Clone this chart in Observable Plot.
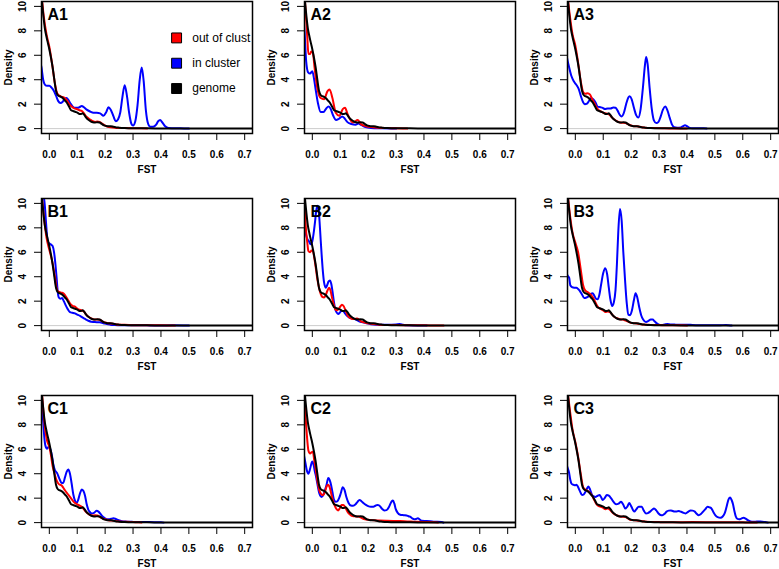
<!DOCTYPE html>
<html>
<head>
<meta charset="utf-8">
<script src="https://cdn.jsdelivr.net/npm/d3@7"></script>
<script src="https://cdn.jsdelivr.net/npm/@observablehq/plot@0.6"></script>
<style>
  html, body { margin: 0; padding: 0; background: white; }
  #chart { position: relative; width: 779px; height: 569px; overflow: hidden; background: white; }
  #chart svg { position: absolute; }
</style>
</head>
<body>
<div id="chart"></div>
<script>
// ---------- data ----------
const panelLabels = ["A1", "A2", "A3", "B1", "B2", "B3", "C1", "C2", "C3"];
const seriesNames = ["out of clust", "in cluster", "genome"];
const seriesColors = ["#ff0000", "#0000ff", "#000000"];
const xTicks = [0, 0.1, 0.2, 0.3, 0.4, 0.5, 0.6, 0.7];
const yTicks = [0, 2, 4, 6, 8, 10];

// genome-wide FST density (black), [FST, density]
const genome = [[-0.035,12],[-0.028,10.8],[-0.022,9.4],[-0.016,8.2],[-0.01,7.5],[-0.004,6.9],[0.0,6.5],[0.006,5.8],[0.012,5.0],[0.018,4.0],[0.024,3.1],[0.03,2.75],[0.036,2.65],[0.042,2.6],[0.048,2.5],[0.054,2.35],[0.06,2.2],[0.066,2.0],[0.072,1.75],[0.078,1.5],[0.084,1.45],[0.09,1.4],[0.096,1.35],[0.102,1.28],[0.108,1.2],[0.114,1.2],[0.12,1.25],[0.126,1.1],[0.132,0.9],[0.14,0.72],[0.148,0.6],[0.156,0.52],[0.164,0.5],[0.172,0.52],[0.18,0.5],[0.188,0.38],[0.196,0.27],[0.204,0.22],[0.212,0.2],[0.22,0.2],[0.23,0.15],[0.24,0.1],[0.25,0.08],[0.27,0.05],[0.3,0.03],[0.35,0.02],[0.4,0.01],[0.5,0.005],[0.6,0.003],[0.75,0]];

// out of cluster (red)
const a1Red = [[-0.035,12],[-0.028,10.9],[-0.02,9.2],[-0.01,7.7],[0.0,6.7],[0.01,5.3],[0.02,3.7],[0.028,2.9],[0.036,2.7],[0.044,2.6],[0.052,2.55],[0.062,2.35],[0.07,2.05],[0.08,1.8],[0.09,1.65],[0.098,1.6],[0.108,1.5],[0.116,1.45],[0.124,1.25],[0.132,1.0],[0.14,0.85],[0.148,0.72],[0.156,0.62],[0.164,0.55],[0.172,0.58],[0.18,0.55],[0.19,0.4],[0.2,0.25],[0.21,0.15],[0.22,0.1],[0.24,0.06],[0.27,0.04],[0.3,0.03],[0.33,0.02],[0.35,0]];
const a2Red = [[-0.035,13],[-0.028,11],[-0.018,7.5],[-0.014,6.1],[-0.008,6.1],[-0.004,6.3],[0.002,6.2],[0.008,5.0],[0.018,3.3],[0.03,2.5],[0.042,2.4],[0.054,3.05],[0.062,3.2],[0.072,2.5],[0.084,1.3],[0.097,1.05],[0.109,1.6],[0.117,1.7],[0.127,1.15],[0.145,0.5],[0.163,0.7],[0.175,0.35],[0.193,0.2],[0.217,0.12],[0.265,0.05],[0.3,0.03],[0.34,0]];
const a3Red = [[-0.035,12],[-0.028,10.9],[-0.02,9.3],[-0.01,7.7],[0.0,6.8],[0.01,5.4],[0.02,3.8],[0.028,3.0],[0.036,2.85],[0.044,2.9],[0.052,2.8],[0.06,2.45],[0.068,2.1],[0.076,1.75],[0.084,1.5],[0.092,1.4],[0.1,1.3],[0.108,1.25],[0.116,1.2],[0.124,1.1],[0.132,0.9],[0.14,0.75],[0.15,0.6],[0.16,0.5],[0.17,0.48],[0.18,0.45],[0.19,0.35],[0.2,0.25],[0.21,0.2],[0.22,0.2],[0.23,0.15],[0.25,0.08],[0.28,0.04],[0.32,0.02],[0.36,0.01],[0.4,0]];
const b1Red = [[-0.035,12],[-0.028,10.8],[-0.02,9.0],[-0.01,7.2],[0.0,6.2],[0.01,5.3],[0.02,4.0],[0.028,2.9],[0.036,2.75],[0.044,2.7],[0.052,2.6],[0.06,2.35],[0.068,2.05],[0.076,1.75],[0.084,1.6],[0.092,1.55],[0.1,1.4],[0.108,1.3],[0.116,1.25],[0.124,1.15],[0.132,0.9],[0.14,0.72],[0.15,0.6],[0.16,0.5],[0.17,0.5],[0.18,0.48],[0.19,0.35],[0.2,0.25],[0.21,0.2],[0.22,0.18],[0.23,0.15],[0.25,0.08],[0.27,0.08],[0.3,0.03],[0.35,0.02],[0.4,0.02],[0.45,0]];
const b2Red = [[-0.035,12],[-0.028,10.5],[-0.024,8.3],[-0.018,6.8],[-0.014,6.1],[-0.008,6.0],[-0.003,6.15],[0.002,6.1],[0.006,5.7],[0.012,4.8],[0.018,3.8],[0.024,3.1],[0.03,2.6],[0.036,2.35],[0.042,2.3],[0.048,2.5],[0.054,2.85],[0.06,3.1],[0.065,2.9],[0.07,2.35],[0.076,1.8],[0.082,1.35],[0.088,1.25],[0.094,1.35],[0.1,1.55],[0.106,1.7],[0.112,1.6],[0.118,1.3],[0.126,0.85],[0.135,0.62],[0.144,0.55],[0.152,0.55],[0.16,0.58],[0.167,0.5],[0.174,0.35],[0.184,0.27],[0.193,0.22],[0.205,0.17],[0.217,0.13],[0.24,0.08],[0.265,0.05],[0.3,0.04],[0.35,0.03],[0.4,0.02],[0.46,0.01],[0.47,0]];
const b3Red = [[-0.035,12],[-0.028,10.9],[-0.02,9.2],[-0.01,7.6],[0.0,6.8],[0.01,6.0],[0.02,4.5],[0.028,3.3],[0.036,2.85],[0.044,2.75],[0.052,2.6],[0.06,2.4],[0.068,2.1],[0.076,1.7],[0.084,1.45],[0.092,1.35],[0.1,1.25],[0.108,1.12],[0.116,1.15],[0.124,1.1],[0.132,0.9],[0.14,0.7],[0.15,0.6],[0.16,0.52],[0.17,0.5],[0.18,0.42],[0.19,0.32],[0.2,0.22],[0.21,0.2],[0.22,0.18],[0.24,0.1],[0.27,0.06],[0.3,0.04],[0.34,0.02],[0.38,0.03],[0.4,0]];
const c1Red = [[-0.035,12.5],[-0.028,11],[-0.02,8.8],[-0.014,7.5],[-0.008,6.7],[0.0,6.2],[0.006,5.5],[0.012,4.6],[0.02,3.9],[0.026,3.45],[0.032,3.2],[0.038,3.1],[0.044,3.05],[0.05,2.85],[0.056,2.65],[0.064,2.4],[0.074,2.1],[0.084,1.8],[0.092,1.6],[0.1,1.5],[0.108,1.4],[0.116,1.3],[0.122,1.15],[0.128,0.97],[0.136,0.78],[0.146,0.62],[0.156,0.58],[0.164,0.6],[0.172,0.58],[0.182,0.45],[0.19,0.35],[0.2,0.27],[0.212,0.2],[0.23,0.15],[0.25,0.1],[0.278,0.07],[0.3,0.04],[0.32,0.02],[0.33,0]];
const c2Red = [[-0.035,12],[-0.028,10],[-0.024,8.6],[-0.02,7.3],[-0.014,5.9],[-0.008,5.65],[-0.003,5.75],[0.002,5.8],[0.007,5.1],[0.012,4.4],[0.016,3.75],[0.02,3.2],[0.025,2.65],[0.031,2.35],[0.037,2.25],[0.042,2.35],[0.047,2.65],[0.052,3.0],[0.057,3.1],[0.062,2.9],[0.068,2.35],[0.074,1.8],[0.081,1.35],[0.087,1.1],[0.093,1.0],[0.099,1.2],[0.105,1.45],[0.111,1.45],[0.118,1.25],[0.126,0.9],[0.134,0.68],[0.141,0.55],[0.15,0.52],[0.159,0.5],[0.166,0.5],[0.173,0.43],[0.181,0.33],[0.189,0.27],[0.2,0.23],[0.219,0.2],[0.24,0.17],[0.267,0.15],[0.29,0.14],[0.315,0.13],[0.34,0.1],[0.362,0.08],[0.4,0.05],[0.44,0.02],[0.45,0]];
const c3Red = [[-0.035,12],[-0.028,10.8],[-0.02,9.3],[-0.01,7.6],[0.0,6.6],[0.01,5.4],[0.02,3.9],[0.028,2.9],[0.036,2.7],[0.044,2.6],[0.052,2.45],[0.06,2.2],[0.068,1.85],[0.076,1.5],[0.084,1.35],[0.092,1.3],[0.1,1.2],[0.108,1.1],[0.116,1.15],[0.124,1.05],[0.132,0.85],[0.14,0.7],[0.15,0.58],[0.16,0.5],[0.17,0.48],[0.18,0.45],[0.19,0.32],[0.2,0.22],[0.21,0.2],[0.22,0.18],[0.24,0.12],[0.27,0.06],[0.3,0.04],[0.35,0.02],[0.42,0.05],[0.5,0.03],[0.6,0.02],[0.65,0]];

// in cluster (blue)
const a1Blue = [[-0.035,5.6],[-0.028,5.0],[-0.022,4.0],[-0.016,3.6],[-0.008,3.5],[0.0,3.5],[0.008,3.35],[0.016,3.1],[0.024,2.7],[0.032,2.25],[0.04,2.1],[0.048,2.2],[0.056,2.45],[0.062,2.5],[0.068,2.35],[0.076,2.05],[0.084,1.8],[0.092,1.7],[0.1,1.7],[0.108,1.75],[0.116,1.85],[0.124,1.75],[0.134,1.55],[0.146,1.4],[0.158,1.3],[0.17,1.3],[0.182,1.25],[0.194,1.05],[0.204,1.35],[0.212,1.75],[0.22,1.55],[0.23,1.0],[0.238,0.6],[0.246,0.75],[0.254,1.3],[0.262,2.6],[0.27,3.55],[0.278,2.7],[0.286,1.3],[0.294,0.4],[0.3,0.25],[0.308,0.6],[0.316,1.9],[0.324,4.0],[0.331,5.0],[0.338,3.9],[0.346,1.5],[0.354,0.4],[0.362,0.15],[0.372,0.15],[0.382,0.3],[0.39,0.6],[0.397,0.7],[0.405,0.5],[0.415,0.2],[0.427,0.05],[0.45,0.03],[0.47,0.03],[0.49,0.01],[0.5,0]];
const a2Blue = [[-0.035,10],[-0.028,8.0],[-0.022,5.5],[-0.015,4.6],[-0.008,4.5],[0.0,4.7],[0.006,4.1],[0.012,3.2],[0.02,2.1],[0.03,1.35],[0.04,1.35],[0.05,1.65],[0.058,1.8],[0.065,1.65],[0.075,1.05],[0.085,0.7],[0.095,0.8],[0.107,1.0],[0.115,0.85],[0.125,0.55],[0.14,0.38],[0.155,0.32],[0.165,0.42],[0.175,0.3],[0.19,0.12],[0.21,0.06],[0.25,0.03],[0.3,0]];
const a3Blue = [[-0.035,6.5],[-0.028,5.6],[-0.022,5.0],[-0.014,4.3],[-0.006,3.9],[-0.002,3.75],[0.006,3.5],[0.012,3.25],[0.02,2.65],[0.028,2.15],[0.034,2.0],[0.042,2.05],[0.05,2.3],[0.057,2.5],[0.064,2.4],[0.072,2.15],[0.08,1.8],[0.09,1.75],[0.098,1.7],[0.106,1.6],[0.116,1.65],[0.126,1.65],[0.136,1.72],[0.144,1.7],[0.152,1.45],[0.16,1.1],[0.166,1.0],[0.174,1.3],[0.182,2.0],[0.19,2.55],[0.195,2.65],[0.202,2.4],[0.21,1.7],[0.218,1.1],[0.226,0.9],[0.234,1.6],[0.242,3.3],[0.25,5.3],[0.254,5.85],[0.259,5.3],[0.266,3.4],[0.274,1.6],[0.282,0.65],[0.29,0.45],[0.298,0.55],[0.306,1.0],[0.314,1.55],[0.322,1.8],[0.33,1.5],[0.338,0.9],[0.346,0.35],[0.354,0.12],[0.365,0.08],[0.378,0.1],[0.386,0.2],[0.393,0.27],[0.4,0.2],[0.408,0.08],[0.42,0.03],[0.44,0.02],[0.46,0.02],[0.47,0]];
const b1Blue = [[-0.03,13],[-0.022,11],[-0.016,9.8],[-0.012,8.5],[-0.008,7.3],[-0.004,6.8],[0.002,6.7],[0.008,6.6],[0.012,6.5],[0.017,6.0],[0.022,5.0],[0.026,3.95],[0.03,2.8],[0.034,2.3],[0.04,2.2],[0.046,2.25],[0.052,2.0],[0.058,1.7],[0.066,1.35],[0.074,1.1],[0.082,1.05],[0.092,1.0],[0.1,0.9],[0.11,0.8],[0.12,0.65],[0.13,0.52],[0.14,0.4],[0.15,0.32],[0.16,0.3],[0.17,0.28],[0.18,0.27],[0.194,0.2],[0.206,0.12],[0.218,0.08],[0.235,0.05],[0.254,0.03],[0.3,0.02],[0.35,0.02],[0.4,0.01],[0.44,0.02],[0.48,0.01],[0.5,0]];
const b2Blue = [[-0.035,9],[-0.028,8.2],[-0.024,7.6],[-0.018,7.1],[-0.012,6.9],[-0.006,6.65],[0.0,6.9],[0.005,7.6],[0.01,8.55],[0.014,9.4],[0.018,9.8],[0.022,9.6],[0.026,8.5],[0.03,7.0],[0.034,5.6],[0.038,4.4],[0.042,3.55],[0.048,3.1],[0.053,3.3],[0.058,3.6],[0.063,3.7],[0.068,3.4],[0.072,2.85],[0.077,2.0],[0.082,1.35],[0.088,1.05],[0.093,0.95],[0.098,1.05],[0.104,1.2],[0.11,1.2],[0.116,1.05],[0.122,0.85],[0.13,0.7],[0.14,0.6],[0.15,0.55],[0.16,0.45],[0.168,0.35],[0.18,0.27],[0.193,0.2],[0.21,0.12],[0.229,0.08],[0.26,0.07],[0.283,0.08],[0.3,0.1],[0.313,0.13],[0.325,0.07],[0.337,0.02],[0.37,0.01],[0.41,0]];
const b3Blue = [[-0.035,4.6],[-0.028,4.1],[-0.022,3.9],[-0.018,3.3],[-0.012,3.15],[-0.004,3.1],[0.004,3.1],[0.01,3.0],[0.016,2.85],[0.024,2.55],[0.032,2.25],[0.04,2.3],[0.048,2.4],[0.056,2.6],[0.062,2.65],[0.068,2.45],[0.074,2.2],[0.08,2.15],[0.086,2.5],[0.092,3.3],[0.1,4.3],[0.107,4.7],[0.114,4.2],[0.12,3.1],[0.126,2.1],[0.132,1.6],[0.138,1.9],[0.144,2.9],[0.149,5.0],[0.154,7.7],[0.16,9.55],[0.166,8.6],[0.172,6.0],[0.178,3.8],[0.184,1.9],[0.19,0.9],[0.196,0.85],[0.203,1.25],[0.21,2.1],[0.216,2.65],[0.222,2.3],[0.229,1.5],[0.236,0.85],[0.243,0.5],[0.253,0.3],[0.262,0.38],[0.27,0.5],[0.277,0.5],[0.284,0.35],[0.292,0.18],[0.3,0.08],[0.31,0.06],[0.32,0.1],[0.33,0.13],[0.34,0.1],[0.36,0.08],[0.38,0.07],[0.4,0.08],[0.42,0.05],[0.44,0.03],[0.48,0.02],[0.52,0.03],[0.54,0.05],[0.55,0.03],[0.56,0]];
const c1Blue = [[-0.035,11.5],[-0.028,9.5],[-0.022,8.3],[-0.018,7.0],[-0.014,6.3],[-0.008,6.05],[-0.002,6.2],[0.004,6.0],[0.01,5.4],[0.014,4.8],[0.02,4.3],[0.028,4.05],[0.036,3.6],[0.044,3.25],[0.05,3.25],[0.056,3.7],[0.062,4.15],[0.068,4.35],[0.074,4.0],[0.08,3.2],[0.086,2.3],[0.092,1.8],[0.098,1.6],[0.104,1.9],[0.11,2.4],[0.116,2.7],[0.122,2.6],[0.128,2.2],[0.134,1.5],[0.14,1.05],[0.146,0.85],[0.152,0.75],[0.16,0.8],[0.17,0.97],[0.176,0.9],[0.182,0.75],[0.19,0.52],[0.198,0.38],[0.206,0.28],[0.214,0.27],[0.222,0.32],[0.23,0.35],[0.238,0.3],[0.248,0.2],[0.26,0.12],[0.278,0.08],[0.3,0.06],[0.325,0.05],[0.36,0.04],[0.4,0.03],[0.41,0]];
const c2Blue = [[-0.035,6.2],[-0.029,5.4],[-0.024,4.8],[-0.02,4.3],[-0.014,4.0],[-0.008,4.4],[-0.003,4.85],[0.0,5.0],[0.004,4.8],[0.008,4.3],[0.013,3.8],[0.018,3.2],[0.025,2.4],[0.033,2.1],[0.04,2.3],[0.046,2.7],[0.051,3.1],[0.057,3.65],[0.062,3.5],[0.067,3.1],[0.072,2.5],[0.078,1.85],[0.084,1.7],[0.09,1.75],[0.096,2.0],[0.102,2.4],[0.109,2.9],[0.115,2.7],[0.122,2.1],[0.13,1.6],[0.138,1.4],[0.146,1.38],[0.155,1.5],[0.162,1.7],[0.169,1.85],[0.176,1.75],[0.183,1.6],[0.192,1.45],[0.2,1.35],[0.21,1.3],[0.219,1.3],[0.226,1.38],[0.233,1.45],[0.24,1.4],[0.249,1.15],[0.258,1.0],[0.266,1.02],[0.274,1.25],[0.28,1.55],[0.285,1.75],[0.289,1.8],[0.294,1.55],[0.299,1.1],[0.306,0.8],[0.315,0.65],[0.324,0.62],[0.332,0.6],[0.342,0.55],[0.35,0.48],[0.358,0.35],[0.365,0.27],[0.372,0.3],[0.378,0.35],[0.385,0.25],[0.392,0.15],[0.41,0.13],[0.434,0.08],[0.464,0.05],[0.47,0]];
const c3Blue = [[-0.035,5.0],[-0.028,4.5],[-0.0225,4.1],[-0.018,3.5],[-0.014,3.2],[-0.008,3.1],[-0.002,3.05],[0.004,3.1],[0.009,2.95],[0.016,2.6],[0.024,2.25],[0.03,2.3],[0.036,2.5],[0.042,2.8],[0.047,2.95],[0.053,2.7],[0.06,2.25],[0.066,2.15],[0.072,2.1],[0.08,2.2],[0.087,2.25],[0.093,2.05],[0.098,1.85],[0.105,2.0],[0.113,2.25],[0.12,2.2],[0.128,2.0],[0.137,1.7],[0.146,1.5],[0.155,1.55],[0.164,1.7],[0.171,1.5],[0.179,1.15],[0.186,1.3],[0.193,1.6],[0.2,1.35],[0.211,0.9],[0.219,1.1],[0.227,1.3],[0.238,1.3],[0.245,1.0],[0.253,0.75],[0.26,0.78],[0.268,0.9],[0.275,1.05],[0.282,1.15],[0.29,1.0],[0.298,0.75],[0.305,0.62],[0.312,0.6],[0.32,0.72],[0.327,0.9],[0.335,0.98],[0.342,1.0],[0.349,0.95],[0.356,0.9],[0.364,0.92],[0.371,0.95],[0.377,0.9],[0.383,0.85],[0.39,0.78],[0.395,0.75],[0.404,0.88],[0.413,1.0],[0.42,0.98],[0.428,0.9],[0.435,0.72],[0.442,0.6],[0.45,0.7],[0.458,0.9],[0.466,1.1],[0.474,1.3],[0.481,1.25],[0.488,1.15],[0.495,0.85],[0.502,0.6],[0.51,0.45],[0.52,0.4],[0.528,0.5],[0.535,0.75],[0.542,1.3],[0.549,1.9],[0.555,2.05],[0.56,1.85],[0.565,1.5],[0.57,0.95],[0.575,0.5],[0.581,0.3],[0.587,0.27],[0.595,0.33],[0.603,0.4],[0.61,0.33],[0.618,0.2],[0.625,0.12],[0.632,0.08],[0.645,0.08],[0.656,0.1],[0.668,0.08],[0.68,0.05],[0.69,0]];

// ---------- layout ----------
const redSeries = [a1Red, a2Red, a3Red, b1Red, b2Red, b3Red, c1Red, c2Red, c3Red];
const blueSeries = [a1Blue, a2Blue, a3Blue, b1Blue, b2Blue, b3Blue, c1Blue, c2Blue, c3Blue];

const fontFamily = "'Liberation Sans', Arial, Helvetica, sans-serif";
const colPitch = 263;
const rowTops = [0.5, 198, 395];
const mTop = 5, mLeft = 41, mRight = 11, mBottom = 60, boxW = 211, boxH = 132;
const xDomain = [-0.028, 0.728];
const yDomain = [-0.4, 10.4];
// legend anchor (data coordinates in panel A1)
const legendSwatchX = 0.456, legendTextX = 0.512, legendTop = 7.42, legendStep = 2.07;

const chart = document.getElementById("chart");

panelLabels.forEach((label, p) => {
  const col = p % 3, row = Math.floor(p / 3);
  const lineOpts = {x: d => d[0], y: d => d[1], strokeWidth: 2, curve: "monotone-x", clip: true};
  const marks = [
    Plot.ruleY([0], {stroke: "#bebebe", strokeWidth: 0.8}),
    Plot.line(blueSeries[p], {...lineOpts, stroke: seriesColors[1]}),
    Plot.line(redSeries[p], {...lineOpts, stroke: seriesColors[0]}),
    Plot.line(genome, {...lineOpts, stroke: seriesColors[2]}),
    Plot.frame({stroke: "black", strokeWidth: 1.5}),
    Plot.axisX({ticks: xTicks, tickFormat: d3.format(".1f"), tickSize: 7, tickPadding: 10, label: null, fontSize: 10}),
    Plot.axisY({ticks: yTicks, tickSize: 7, tickFormat: () => "", label: null}),
    // y tick labels, rotated like R's default
    Plot.text(yTicks, {y: d => d, frameAnchor: "left", dx: -19, rotate: -90, textAnchor: "middle", lineAnchor: "middle", text: d => String(d), fontSize: 10}),
    Plot.text([label], {frameAnchor: "top-left", dx: 6, dy: 7, lineAnchor: "top", textAnchor: "start", text: d => d, fontSize: 16, fontWeight: "bold"}),
    Plot.text(["FST"], {frameAnchor: "bottom", dy: 39.5, text: d => d, fontSize: 10}),
    Plot.text(["Density"], {frameAnchor: "left", dx: -33, rotate: -90, textAnchor: "middle", lineAnchor: "middle", text: d => d, fontSize: 10})
  ];
  if (p === 0) {
    seriesNames.forEach((name, i) => {
      marks.push(Plot.dot([name], {x: () => legendSwatchX, y: () => legendTop - i * legendStep, symbol: "square", r: 5.6, fill: seriesColors[i], stroke: "black", strokeWidth: 1, clip: true}));
      marks.push(Plot.text([name], {x: () => legendTextX, y: () => legendTop - i * legendStep, text: d => d, textAnchor: "start", fontSize: 12, fontWeight: "normal", clip: true}));
    });
  }
  const svg = Plot.plot({
    width: mLeft + boxW + mRight,
    height: mTop + boxH + mBottom,
    marginLeft: mLeft, marginRight: mRight, marginTop: mTop, marginBottom: mBottom,
    style: {fontFamily, fontSize: "10px", fontWeight: "bold", color: "black", background: "transparent", overflow: "visible"},
    x: {domain: xDomain},
    y: {domain: yDomain},
    marks
  });
  svg.style.left = (col * colPitch) + "px";
  svg.style.top = (rowTops[row] - mTop) + "px";
  chart.appendChild(svg);
});
</script>
</body>
</html>
